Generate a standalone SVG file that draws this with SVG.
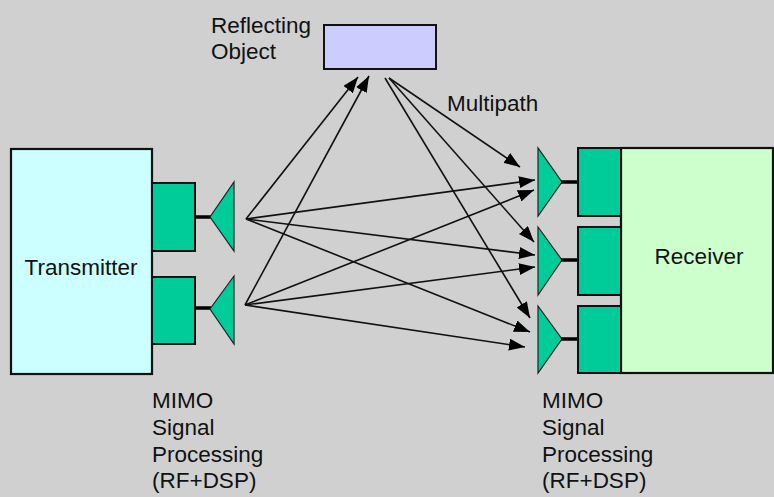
<svg xmlns="http://www.w3.org/2000/svg" width="774" height="497" viewBox="0 0 774 497">
<defs>
<style>
.t{font-family:"Liberation Sans",Arial,sans-serif;font-size:22.5px;fill:#111}
.blk{fill:#00CC99;stroke:#111;stroke-width:2}
.ant{fill:#00CC99;stroke:#222;stroke-width:1.2}
.stub{stroke:#000;stroke-width:3.5}
.ray{stroke:#111;stroke-width:1.6;fill:none;marker-end:url(#ah)}
</style>
<marker id="ah" markerUnits="userSpaceOnUse" viewBox="0 0 16 12" refX="16" refY="6" markerWidth="16" markerHeight="12" orient="auto">
<path d="M0,0 L16,6 L0,12 Z" fill="#000"/>
</marker>
</defs>
<rect x="0" y="0" width="774" height="497" fill="#D0D0D0"/>
<g id="transmitter">
<rect x="11" y="149" width="141" height="225" fill="#CCFFFF" stroke="#111" stroke-width="2.2"/>
<text class="t" x="81" y="275" text-anchor="middle">Transmitter</text>
</g>
<g id="tx-chain-1">
<rect class="blk" x="152" y="183" width="43" height="68"/>
<line class="stub" x1="195" y1="217" x2="211" y2="217"/>
<polygon class="ant" points="234,182 234,251 210,217"/>
</g>
<g id="tx-chain-2">
<rect class="blk" x="152" y="277" width="43" height="67"/>
<line class="stub" x1="195" y1="308" x2="211" y2="308"/>
<polygon class="ant" points="234,276 234,344 210,309"/>
</g>
<g id="receiver">
<rect x="621" y="148" width="152" height="225" fill="#CCFFCC" stroke="#111" stroke-width="2.2"/>
<text class="t" x="699" y="264" text-anchor="middle">Receiver</text>
</g>
<g id="rx-chain-1">
<polygon class="ant" points="538,148 538,216 562,182"/>
<line class="stub" x1="561" y1="182" x2="578" y2="182"/>
<rect class="blk" x="578" y="148" width="43" height="68"/>
</g>
<g id="rx-chain-2">
<polygon class="ant" points="538,227 538,295 562,260"/>
<line class="stub" x1="561" y1="260" x2="578" y2="260"/>
<rect class="blk" x="578" y="227" width="43" height="68"/>
</g>
<g id="rx-chain-3">
<polygon class="ant" points="538,306 538,373 562,339"/>
<line class="stub" x1="561" y1="339" x2="578" y2="339"/>
<rect class="blk" x="578" y="306" width="43" height="67"/>
</g>
<g id="reflector">
<rect x="324" y="25" width="112" height="44" fill="#CCCCFF" stroke="#111" stroke-width="2"/>
<text class="t" x="211" y="33">Reflecting</text>
<text class="t" x="211" y="59">Object</text>
</g>
<g id="connectors">
<line class="ray" x1="246" y1="219" x2="358" y2="77"/>
<line class="ray" x1="245" y1="305" x2="369" y2="76"/>
<line class="ray" x1="246" y1="219" x2="535" y2="180"/>
<line class="ray" x1="246" y1="219" x2="535" y2="255"/>
<line class="ray" x1="246" y1="219" x2="530" y2="332"/>
<line class="ray" x1="245" y1="305" x2="534" y2="190"/>
<line class="ray" x1="245" y1="305" x2="535" y2="267"/>
<line class="ray" x1="245" y1="305" x2="525" y2="347"/>
<line class="ray" x1="389" y1="78" x2="520" y2="167"/>
<line class="ray" x1="389" y1="78" x2="534" y2="242"/>
<line class="ray" x1="385" y1="78" x2="530" y2="318"/>
</g>
<text class="t" x="447" y="111">Multipath</text>
<g id="labels">
<text class="t" x="152" y="408">MIMO</text>
<text class="t" x="152" y="435">Signal</text>
<text class="t" x="152" y="462">Processing</text>
<text class="t" x="152" y="488">(RF+DSP)</text>
<text class="t" x="542" y="408">MIMO</text>
<text class="t" x="542" y="435">Signal</text>
<text class="t" x="542" y="462">Processing</text>
<text class="t" x="542" y="488">(RF+DSP)</text>
</g>
</svg>
